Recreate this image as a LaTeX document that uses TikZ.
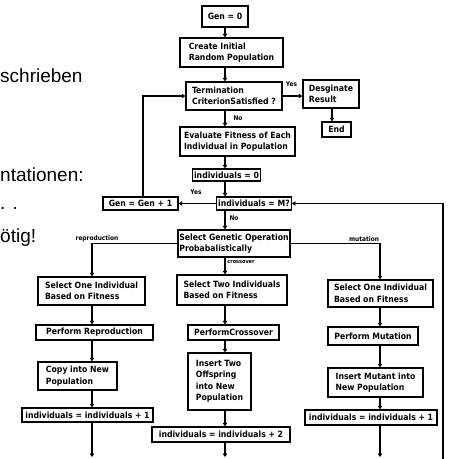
\documentclass[tikz,border=0pt]{standalone}
\usepackage{fontspec}
\setmainfont{Liberation Sans}
\newfontfamily\chartfont{DejaVu Sans Condensed}
\usetikzlibrary{arrows.meta, calc}
\tikzset{
  box/.style={draw, line width=1.3pt, align=left, inner xsep=1.5pt, inner ysep=1pt,
    font=\chartfont\fontsize{8.6}{11.5}\selectfont\bfseries},
  lbl/.style={inner sep=0pt, font=\chartfont\fontsize{6.5}{8}\selectfont\bfseries},
  slide/.style={anchor=base west, inner sep=0pt, font=\fontsize{19}{22}\selectfont},
  arr/.style={-{Triangle[length=3.5pt,width=4.5pt]}, line width=1.5pt},
}
\begin{document}
\begin{tikzpicture}[x=1pt,y=-1pt]
\useasboundingbox (0,0) rectangle (450,459);

% slide text behind the chart
\node[slide] (s1) at (0,82) {schrieben};
\node[slide] (s2) at (0,181) {ntationen:};
\node[slide] (s3) at (0,209) {. .};
\node[slide] (s4) at (0,242) {ötig!};

% columns
\coordinate (cm) at (225,0);
\coordinate (cl) at (92,0);
\coordinate (cr) at (380,0);
\coordinate (cd) at (332,0);

% top part
\node[box, minimum width=46pt, minimum height=21pt] (gen0) at (225,16.5) {Gen = 0};
\node[box, minimum width=103pt, minimum height=29pt] (create) at (231.5,52.5) {Create Initial\\Random Population};
\node[box, minimum width=96pt, minimum height=28pt] (term) at (234,96) {Termination\\CriterionSatisfied ?};
\node[box, minimum width=56pt, minimum height=28pt] (desig) at (331,94) {Desginate\\Result};
\node[box, minimum width=29pt, minimum height=15pt] (endb) at (336.5,129.5) {End};
\node[box, minimum width=115pt, minimum height=29pt] (eval) at (237.5,141.5) {Evaluate Fitness of Each\\Individual  in Population};
\node[box, minimum width=67pt, minimum height=12pt] (ind0) at (226.5,175) {individuals = 0};
\node[box, minimum width=72pt, minimum height=13pt] (indM) at (254,203.5) {individuals = M?};
\node[box, minimum width=75pt, minimum height=13pt] (genInc) at (140.5,203.5) {Gen = Gen + 1};
\node[box, minimum width=112pt, minimum height=27pt] (selgen) at (234,243.5) {Select Genetic Operation\\Probabalistically};

% three branches
\node[box, minimum width=107pt, minimum height=28pt] (selL) at (91.5,291) {Select One Individual\\Based on Fitness};
\node[box, minimum width=110pt, minimum height=30pt] (selM) at (232,290) {Select Two Individuals\\Based on Fitness};
\node[box, minimum width=105pt, minimum height=27pt] (selR) at (380.5,293.5) {Select One Individual\\Based on Fitness};
\node[box, minimum width=117pt, minimum height=15pt] (perfR) at (94.5,332.5) {Perform  Reproduction};
\node[box, minimum width=91pt, minimum height=15pt] (perfC) at (233.5,332.5) {PerformCrossover};
\node[box, minimum width=90pt, minimum height=18pt] (perfM) at (373,336) {Perform  Mutation};
\node[box, minimum width=79pt, minimum height=28pt] (copy) at (77.5,376) {Copy into New\\Population};
\node[box, minimum width=63pt, minimum height=57pt] (insTwo) at (219.5,381.5) {Insert Two\\Offspring\\into New\\Population};
\node[box, minimum width=95pt, minimum height=29pt] (insMut) at (375.5,382.5) {Insert  Mutant into\\New Population};
\node[box, minimum width=131pt, minimum height=14pt] (incL) at (87.5,415) {individuals = individuals + 1};
\node[box, minimum width=138pt, minimum height=15pt] (inc2) at (221,434.5) {individuals = individuals + 2};
\node[box, minimum width=132pt, minimum height=15pt] (incR) at (371,417.5) {individuals = individuals + 1};

% labels
\node[lbl] (yes1) at (291.5,84) {Yes};
\node[lbl] (no1) at (238,118) {No};
\node[lbl] (yes2) at (196,192) {Yes};
\node[lbl] (no2) at (234,218) {No};
\node[lbl] (rep) at (97,239) {reproduction};
\node[lbl] (mut) at (364,239) {mutation};
\node[lbl, font=\chartfont\fontsize{5.5}{6}\selectfont\bfseries] (cross) at (241,262) {crossover};

% loose ends
\coordinate (loopL) at (143,96);
\coordinate (loopR) at (443,459);
\coordinate (bl) at (92,457);
\coordinate (bm) at (225,457);
\coordinate (br) at (380,457);

% connectors
\draw[arr] (gen0.south -| cm) -- (create.north -| cm);
\draw[arr] (create.south -| cm) -- (term.north -| cm);
\draw[arr] (term.east) -- (term.east -| desig.west);
\draw[arr] (desig.south -| cd) -- (endb.north -| cd);
\draw[arr] (term.south -| cm) -- (eval.north -| cm);
\draw[arr] (eval.south -| cm) -- (ind0.north -| cm);
\draw[arr] (ind0.south -| cm) -- (indM.north -| cm);
\draw[arr] (indM.west) -- (genInc.east);
\draw[arr] (genInc.north -| loopL) -- (loopL) -- (term.west);
\draw[arr] (loopR) -- (loopR |- indM.east) -- (indM.east);
\draw[arr] (indM.south -| cm) -- (selgen.north -| cm);
\draw[arr] (selgen.west) -| (selL.north -| cl);
\draw[arr] (selgen.east) -| (selR.north -| cr);
\draw[arr] (selgen.south -| cm) -- (selM.north -| cm);

\draw[arr] (selL.south -| cl) -- (perfR.north -| cl);
\draw[arr] (perfR.south -| cl) -- (copy.north -| cl);
\draw[arr] (copy.south -| cl) -- (incL.north -| cl);
\draw[arr] (incL.south -| cl) -- (bl);

\draw[arr] (selM.south -| cm) -- (perfC.north -| cm);
\draw[arr] (perfC.south -| cm) -- (insTwo.north -| cm);
\draw[arr] (insTwo.south -| cm) -- (inc2.north -| cm);
\draw[arr] (inc2.south -| cm) -- (bm);

\draw[arr] (selR.south -| cr) -- (perfM.north -| cr);
\draw[arr] (perfM.south -| cr) -- (insMut.north -| cr);
\draw[arr] (insMut.south -| cr) -- (incR.north -| cr);
\draw[arr] (incR.south -| cr) -- (br);

\end{tikzpicture}
\end{document}
